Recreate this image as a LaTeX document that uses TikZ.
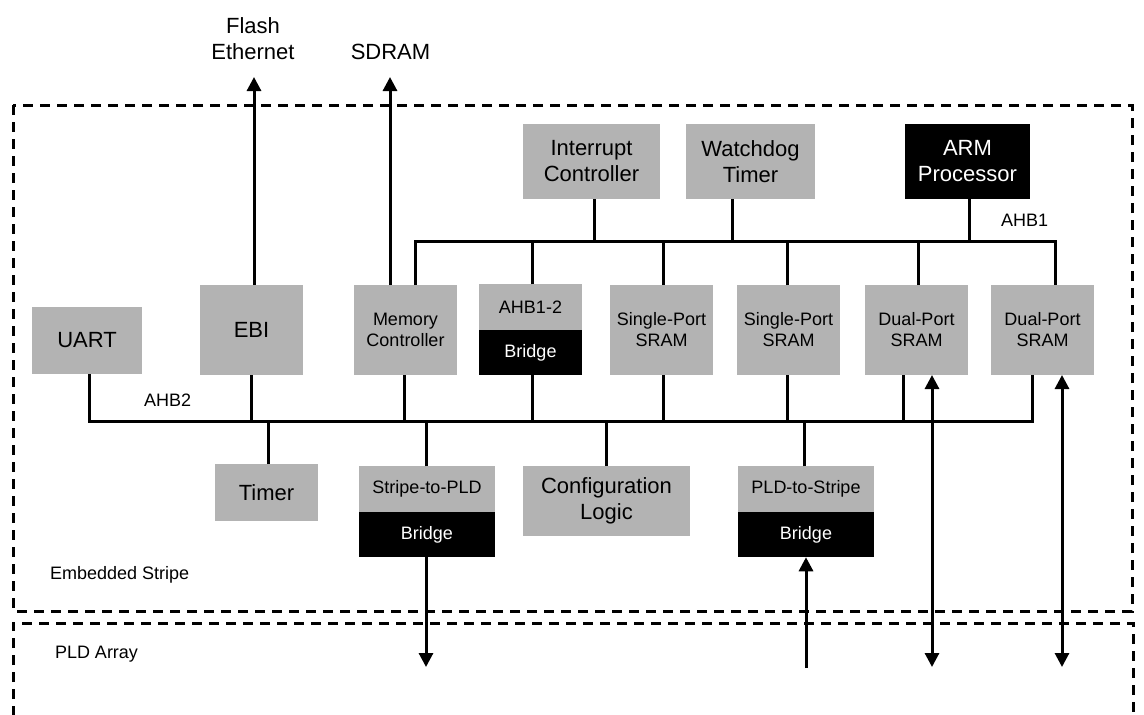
\documentclass[tikz,border=0pt]{standalone}
\usepackage{fontspec}
\setmainfont{Liberation Sans}
\usetikzlibrary{arrows.meta}
\definecolor{blockgray}{RGB}{179,179,179}

\begin{document}
\begin{tikzpicture}[x=1pt,y=-1pt,
  every node/.style={inner sep=0pt, outer sep=0pt},
  blk/.style={fill=blockgray, rectangle, align=center},
  blkdark/.style={fill=black, text=white, rectangle, align=center},
  big/.style={font=\fontsize{22}{26}\selectfont},
  small/.style={font=\fontsize{18}{21}\selectfont},
  unit/.style={minimum width=103pt, minimum height=90pt},
  half/.style={minimum height=45.5pt},
  wire/.style={line width=3pt},
  sig/.style={line width=3pt},
  border/.style={line width=3pt, dash pattern=on 10pt off 7pt},
  >={Triangle[length=14pt,width=14pt]},
]
\useasboundingbox (0,0) rectangle (1144,715);

% region outlines
\draw[border] (13,105) rectangle (1132,611);
\draw[border] (13,716) -- (13,623) -- (1133,623) -- (1133,716);

% off-chip destinations
\node[big, align=center] (extebi) at (253,39) {Flash\\Ethernet};
\node[big] (extsdram) at (390.5,52) {SDRAM};
\coordinate (ebiout) at (254,77);
\coordinate (sdramout) at (390,77);

% AHB1 masters and slaves above the bus
\node[blk,big,minimum width=137pt,minimum height=75pt] (intc) at (591.5,161.5) {Interrupt\\Controller};
\node[blk,big,minimum width=129pt,minimum height=75pt] (wdt) at (750.5,161.5) {Watchdog\\Timer};
\node[blkdark,big,minimum width=125pt,minimum height=75pt] (arm) at (967.5,161.5) {ARM\\Processor};

% middle row
\node[blk,big,minimum width=110pt,minimum height=67pt] (uart) at (87,340.5) {UART};
\node[blk,big,unit] (ebi) at (251.5,330) {EBI};
\node[blk,small,unit] (memctl) at (405.5,330) {Memory\\Controller};
\node[blk,small,minimum width=103pt,half] (ahbtop) at (530.5,307) {AHB1-2};
\node[blkdark,small,minimum width=103pt,half,anchor=north] (ahbbr) at (ahbtop.south) {Bridge};
\node[blk,small,unit] (sp1) at (661.5,330) {Single-Port\\SRAM};
\node[blk,small,unit] (sp2) at (788.5,330) {Single-Port\\SRAM};
\node[blk,small,unit] (dp1) at (916.5,330) {Dual-Port\\SRAM};
\node[blk,small,unit] (dp2) at (1042.5,330) {Dual-Port\\SRAM};

% bottom row
\node[blk,big,minimum width=103pt,minimum height=57pt] (timer) at (266.5,492.5) {Timer};
\node[blk,small,minimum width=136pt,half] (s2ptop) at (427,489) {Stripe-to-PLD};
\node[blkdark,small,minimum width=136pt,half,anchor=north] (s2pbr) at (s2ptop.south) {Bridge};
\node[blk,big,minimum width=167pt,minimum height=70pt] (config) at (606.5,501) {Configuration\\Logic};
\node[blk,small,minimum width=136pt,half] (p2stop) at (806,489) {PLD-to-Stripe};
\node[blkdark,small,minimum width=136pt,half,anchor=north] (p2sbr) at (p2stop.south) {Bridge};

% labels
\node[small,anchor=base west] (ahb1lbl) at (1001,226) {AHB1};
\node[small,anchor=base west] (ahb2lbl) at (144,406) {AHB2};
\node[small,anchor=base west] (stripelbl) at (50,579) {Embedded Stripe};
\node[small,anchor=base west] (pldlbl) at (55,658) {PLD Array};

% AHB1 bus
\coordinate (b1l) at (415,241);
\coordinate (b1r) at (1055,241);
\draw[wire] ([xshift=9.5pt]memctl.north) -- (b1l) -- (b1r) -- (dp2.north -| b1r);
\draw[wire] ([xshift=2.5pt]intc.south) -- ([xshift=2.5pt]intc.south |- b1l);
\draw[wire] ([xshift=-18.5pt]wdt.south) -- ([xshift=-18.5pt]wdt.south |- b1l);
\draw[wire] ([xshift=1.5pt]arm.south) -- ([xshift=1.5pt]arm.south |- b1l);
\draw[wire] ([xshift=1.5pt]ahbtop.north) -- ([xshift=1.5pt]ahbtop.north |- b1l);
\draw[wire] ([xshift=1.5pt]sp1.north) -- ([xshift=1.5pt]sp1.north |- b1l);
\draw[wire] ([xshift=-1.5pt]sp2.north) -- ([xshift=-1.5pt]sp2.north |- b1l);
\draw[wire] ([xshift=1.5pt]dp1.north) -- ([xshift=1.5pt]dp1.north |- b1l);

% AHB2 bus
\coordinate (b2l) at (89,421);
\coordinate (b2r) at (1032,421);
\draw[wire] (uart.south -| b2l) -- (b2l) -- (b2r) -- (dp2.south -| b2r);
\draw[wire] ([xshift=-0.5pt]ebi.south) -- ([xshift=-0.5pt]ebi.south |- b2l);
\draw[wire] ([xshift=-1.5pt]memctl.south) -- ([xshift=-1.5pt]memctl.south |- b2l);
\draw[wire] ([xshift=1.5pt]ahbbr.south) -- ([xshift=1.5pt]ahbbr.south |- b2l);
\draw[wire] ([xshift=1.5pt]sp1.south) -- ([xshift=1.5pt]sp1.south |- b2l);
\draw[wire] ([xshift=-1.5pt]sp2.south) -- ([xshift=-1.5pt]sp2.south |- b2l);
\draw[wire] ([xshift=-13.5pt]dp1.south) -- ([xshift=-13.5pt]dp1.south |- b2l);
\draw[wire] ([xshift=2pt]timer.north) -- ([xshift=2pt]timer.north |- b2l);
\draw[wire] ([xshift=-1pt]s2ptop.north) -- ([xshift=-1pt]s2ptop.north |- b2l);
\draw[wire] ([xshift=-0.5pt]config.north) -- ([xshift=-0.5pt]config.north |- b2l);
\draw[wire] ([xshift=-2pt]p2stop.north) -- ([xshift=-2pt]p2stop.north |- b2l);

% external and PLD signals
\draw[sig,->] (ebi.north -| ebiout) -- (ebiout);
\draw[sig,->] (memctl.north -| sdramout) -- (sdramout);
\coordinate (s2pout) at (426,667);
\coordinate (p2sin) at (806,668);
\coordinate (dp1out) at (932,667);
\coordinate (dp2out) at (1062,667);
\draw[sig,->] (s2pbr.south -| s2pout) -- (s2pout);
\draw[sig,->] (p2sin) -- (p2sbr.south -| p2sin);
\draw[sig,<->] (dp1.south -| dp1out) -- (dp1out);
\draw[sig,<->] (dp2.south -| dp2out) -- (dp2out);
\end{tikzpicture}
\end{document}
